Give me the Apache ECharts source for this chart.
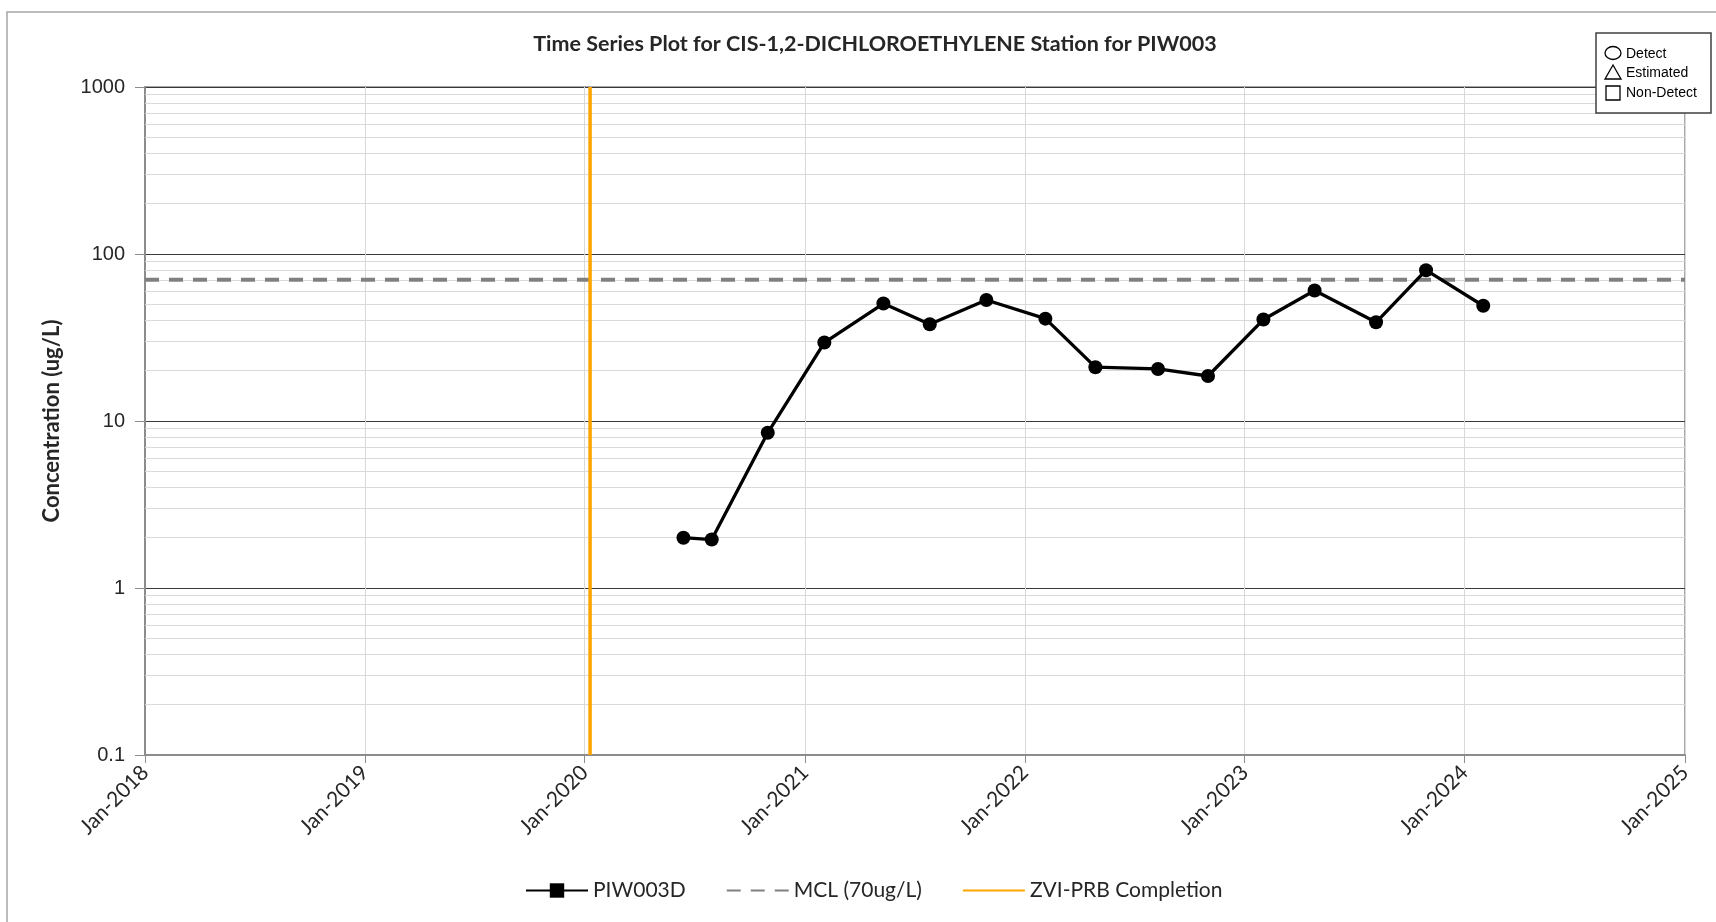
<!DOCTYPE html>
<html>
<head>
<meta charset="utf-8">
<script src="https://cdn.jsdelivr.net/npm/echarts@6/dist/echarts.min.js"></script>
<style>
  html, body { margin: 0; padding: 0; background: #fff; }
  #chart { width: 1716px; height: 922px; }
</style>
</head>
<body>
<div id="chart"></div>
<script>
// sample dates and cis-1,2-DCE results for PIW003D (ug/L)
const sampleDates = [
  '2020-06-13', '2020-07-30', '2020-10-31', '2021-02-02', '2021-05-11',
  '2021-07-27', '2021-10-29', '2022-02-04', '2022-04-28', '2022-08-10',
  '2022-11-01', '2023-02-01', '2023-04-27', '2023-08-07', '2023-10-29',
  '2024-02-01'
]
const concentrations = [
  2.0, 1.95, 8.5, 29.5, 50.5, 38, 53, 41, 21, 20.5, 18.6, 40.5, 60.5, 39, 80, 49
]
// MCL reference line and ZVI-PRB completion date
const mclValue = 70
const mclSpan = ['2018-01-01', '2025-01-01']
const zviDate = '2020-01-10'
const yRange = [0.1, 1000]
// minor log gridlines: 2..9 times each decade
const decades = [0.1, 1, 10, 100]
const minorSteps = [2, 3, 4, 5, 6, 7, 8, 9]

const textColor = '#262626'
const boxFont = 'Liberation Sans Narrow, Liberation Sans'
const minorLines = []
decades.forEach((d) => {
  minorSteps.forEach((m) => {
    minorLines.push({ yAxis: d * m })
  })
})

const chart = echarts.init(document.getElementById('chart'))

const option = {
  animation: false,
  title: {
    text: 'Time Series Plot for CIS-1,2-DICHLOROETHYLENE Station for PIW003',
    left: 870,
    textAlign: 'center',
    top: 28,
    textStyle: {
      fontFamily: 'Lato',
      fontWeight: 'bold',
      fontSize: 21.5,
      color: textColor
    }
  },
  legend: {
    left: 520,
    top: 875,
    itemWidth: 62,
    itemHeight: 18,
    itemGap: 40,
    textStyle: { fontFamily: 'Lato', fontSize: 21, color: textColor },
    data: [
      { name: 'PIW003D' },
      { name: 'MCL (70ug/L)', itemStyle: { opacity: 0 } },
      { name: 'ZVI-PRB Completion', itemStyle: { opacity: 0 } }
    ]
  },
  grid: {
    left: 145,
    top: 87,
    right: 31,
    bottom: 167,
    show: true,
    borderColor: '#8c8c8c',
    borderWidth: 1.5
  },
  xAxis: {
    type: 'time',
    min: mclSpan[0],
    max: mclSpan[1],
    splitNumber: 7,
    minInterval: 365 * 24 * 3600 * 1000,
    axisLine: { onZero: false, lineStyle: { color: '#8c8c8c', width: 2 } },
    axisTick: { show: true, length: 8, lineStyle: { color: '#8c8c8c' } },
    axisLabel: {
      rotate: 45,
      margin: 14,
      showMinLabel: true,
      showMaxLabel: true,
      fontFamily: 'Lato',
      fontSize: 21,
      color: textColor,
      formatter: (value) => 'Jan-' + new Date(value).getFullYear()
    },
    splitLine: { show: true, lineStyle: { color: '#d9d9d9', width: 1 } }
  },
  yAxis: {
    type: 'log',
    logBase: 10,
    min: yRange[0],
    max: yRange[1],
    name: 'Concentration (ug/L)',
    nameLocation: 'middle',
    nameGap: 82,
    nameTextStyle: {
      fontFamily: 'Lato',
      fontWeight: 'bold',
      fontSize: 22,
      color: textColor
    },
    axisLine: { show: true, lineStyle: { color: '#8c8c8c', width: 2 } },
    axisTick: { show: true, length: 10, lineStyle: { color: '#8c8c8c' } },
    axisLabel: {
      margin: 20,
      fontFamily: 'Liberation Sans',
      fontSize: 20,
      color: textColor,
      formatter: (value) => String(+value.toPrecision(6))
    },
    splitLine: { show: true, lineStyle: { color: '#3a3a3a', width: 1 } }
  },
  graphic: [
    {
      type: 'rect',
      silent: true,
      shape: { x: 7, y: 12, width: 1720, height: 930 },
      style: { fill: 'none', stroke: '#a6a6a6', lineWidth: 1.5 },
      z: -10
    },
    {
      type: 'group',
      x: 1596,
      y: 33,
      z: 100,
      children: [
        {
          type: 'rect',
          z: 100,
          shape: { x: 0, y: 0, width: 115, height: 80 },
          style: { fill: '#fff', stroke: '#404040', lineWidth: 1.5 }
        },
        {
          type: 'ellipse',
          z: 101,
          shape: { cx: 17, cy: 20, rx: 8, ry: 6.5 },
          style: { fill: 'none', stroke: '#000', lineWidth: 1.3 }
        },
        {
          type: 'polygon',
          z: 101,
          shape: { points: [[17, 32], [9, 46], [25, 46]] },
          style: { fill: 'none', stroke: '#000', lineWidth: 1.3 }
        },
        {
          type: 'rect',
          z: 101,
          shape: { x: 10, y: 53, width: 14, height: 14 },
          style: { fill: 'none', stroke: '#000', lineWidth: 1.3 }
        },
        {
          type: 'text',
          z: 101,
          style: { x: 30, y: 21, text: 'Detect', font: '14px ' + boxFont, fill: '#000', verticalAlign: 'middle' }
        },
        {
          type: 'text',
          z: 101,
          style: { x: 30, y: 40, text: 'Estimated', font: '14px ' + boxFont, fill: '#000', verticalAlign: 'middle' }
        },
        {
          type: 'text',
          z: 101,
          style: { x: 30, y: 60, text: 'Non-Detect', font: '14px ' + boxFont, fill: '#000', verticalAlign: 'middle' }
        }
      ]
    }
  ],
  series: [
    {
      name: 'minor grid',
      type: 'line',
      data: [],
      silent: true,
      z: 1,
      markLine: {
        z: 1,
        silent: true,
        symbol: ['none', 'none'],
        label: { show: false },
        lineStyle: { color: '#d9d9d9', width: 1, type: 'solid' },
        emphasis: { disabled: true },
        data: minorLines
      }
    },
    {
      name: 'MCL (70ug/L)',
      type: 'line',
      z: 3,
      symbol: 'circle',
      showSymbol: false,
      silent: true,
      color: '#808080',
      lineStyle: { color: '#808080', width: 4, type: [14, 10] },
      data: mclSpan.map((d) => [d, mclValue])
    },
    {
      name: 'ZVI-PRB Completion',
      type: 'line',
      z: 3,
      symbol: 'circle',
      showSymbol: false,
      silent: true,
      color: '#ffa500',
      lineStyle: { color: '#ffa500', width: 3.5 },
      data: yRange.map((v) => [zviDate, v])
    },
    {
      name: 'PIW003D',
      type: 'line',
      z: 5,
      symbol: 'rect',
      symbolSize: 14,
      color: '#000',
      lineStyle: { color: '#000', width: 3.3 },
      data: sampleDates.map((d, i) => ({ value: [d, concentrations[i]], symbol: 'circle' }))
    }
  ]
}

chart.setOption(option)
</script>
</body>
</html>
